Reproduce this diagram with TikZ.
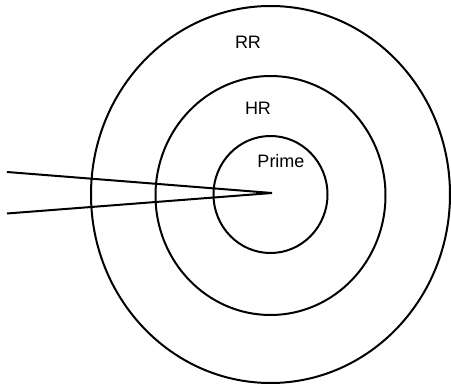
\documentclass[tikz,border=0pt]{standalone}
\usepackage{fontspec}
\setmainfont{Liberation Sans}
\begin{document}
\begin{tikzpicture}[x=1pt,y=-1pt,
  ring/.style={draw=black,line width=2pt},
  wedge/.style={draw=black,line width=2pt,line join=miter},
  lbl/.style={font=\fontsize{18}{20}\selectfont,inner sep=0pt}]
\useasboundingbox (0,0) rectangle (451,385);
\fill[white] (0,0) rectangle (451,385);
\coordinate (c) at (270.5,194.5);
\draw[ring] (c) ellipse [x radius=179.5pt, y radius=188.5pt];
\draw[ring] (270.5,195.5) ellipse [x radius=115pt, y radius=119.5pt];
\draw[ring] (270.5,194.5) ellipse [x radius=57pt, y radius=58.5pt];
\coordinate (tip) at (272,193);
\coordinate (ta) at (7,172);
\coordinate (tb) at (7,213.5);
\draw[wedge] (ta) -- (tip) -- (tb);
\node[lbl] (rr) at (248,42) {RR};
\node[lbl] (hr) at (258,108) {HR};
\node[lbl] (prime) at (281,161) {Prime};
\end{tikzpicture}
\end{document}
